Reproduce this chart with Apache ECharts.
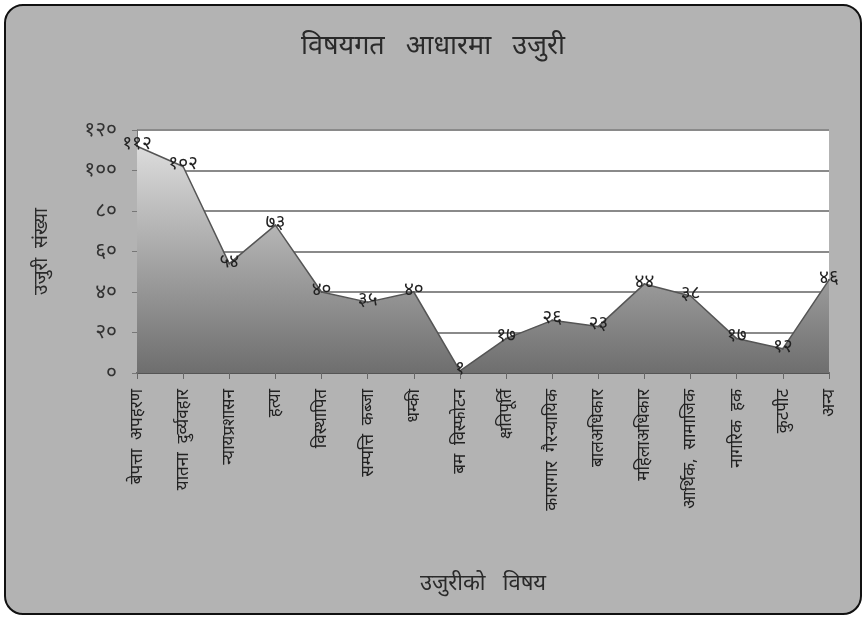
<!DOCTYPE html>
<html>
<head>
<meta charset="utf-8">
<script src="https://cdn.jsdelivr.net/npm/echarts@6/dist/echarts.min.js"></script>
<style>
html,body{margin:0;padding:0;background:#ffffff;}
#c{width:866px;height:620px;}
</style>
</head>
<body>
<div id="c"></div>
<script>
var categories = ['बेपत्ता  अपहरण','यातना  दुर्व्यवहार','न्यायप्रशासन','हत्या','विस्थापित','सम्पत्ति  कब्जा','धम्की','बम  विस्फोटन','क्षतिपूर्ति','कारागार  गैरन्यायिक','बालअधिकार','महिलाअधिकार','आर्थिक,  सामाजिक','नागरिक  हक','कुटपीट','अन्य'];
var values = [112, 102, 54, 73, 40, 35, 40, 1, 17, 26, 23, 44, 38, 17, 12, 46];
var yTicks = [0, 20, 40, 60, 80, 100, 120];

var DEV = ['०','१','२','३','४','५','६','७','८','९'];
function toDev(n){ return String(n).replace(/[0-9]/g, function(d){ return DEV[+d]; }); }

var FONT = '"Noto Sans", "Noto Sans Devanagari", "Lohit Devanagari", "FreeSans", sans-serif';
var chart = echarts.init(document.getElementById('c'));
chart.setOption({
  backgroundColor: 'transparent',
  animation: false,
  textStyle: { fontFamily: FONT },
  graphic: [{
    type: 'rect', z: -10, silent: true,
    shape: { x: 5, y: 5, width: 856, height: 609, r: 18 },
    style: { fill: '#b3b3b3', stroke: '#111', lineWidth: 2 }
  }],
  title: {
    text: 'विषयगत   आधारमा   उजुरी',
    left: 'center', top: 28,
    textStyle: { fontSize: 27, fontWeight: 'normal', color: '#2a2a2a', fontFamily: FONT }
  },
  grid: { left: 137, right: 37, top: 130, bottom: 247, show: true, backgroundColor: '#ffffff', borderWidth: 0 },
  xAxis: {
    type: 'category', data: categories, boundaryGap: false,
    name: 'उजुरीको   विषय', nameLocation: 'middle', nameGap: 200,
    nameTextStyle: { fontSize: 22, color: '#2a2a2a', fontFamily: FONT },
    axisLine: { lineStyle: { color: '#555', width: 2 } },
    axisTick: { show: true, alignWithLabel: true, length: 6, lineStyle: { color: '#666' } },
    axisLabel: { rotate: 90, interval: 0, fontSize: 17, color: '#222', margin: 16, fontFamily: FONT }
  },
  yAxis: {
    type: 'value', min: 0, max: 120, interval: 20,
    name: 'उजुरी  संख्या', nameLocation: 'middle', nameGap: 86, nameRotate: 90,
    nameTextStyle: { fontSize: 19, color: '#2a2a2a', fontFamily: FONT },
    axisLine: { show: true, lineStyle: { color: '#777' } },
    axisTick: { show: true, length: 5, lineStyle: { color: '#777' } },
    axisLabel: { fontSize: 21, color: '#333', margin: 20, formatter: function(v){ return toDev(v); } },
    splitLine: { lineStyle: { color: '#8a8a8a', width: 2 } }
  },
  series: [{
    type: 'line', data: values, symbol: 'circle', symbolSize: 2, showSymbol: true,
    itemStyle: { color: '#555' },
    lineStyle: { color: '#555', width: 1.5 },
    areaStyle: {
      color: new echarts.graphic.LinearGradient(0, 0, 0, 1, [
        { offset: 0, color: '#dcdcdc' },
        { offset: 1, color: '#6e6e6e' }
      ]),
      opacity: 1
    },
    label: {
      show: true, position: 'top', distance: -8, fontSize: 19, color: '#222',
      formatter: function(p){ return toDev(p.value); }
    },
    labelLayout: { hideOverlap: false }
  }]
});
</script>
</body>
</html>
